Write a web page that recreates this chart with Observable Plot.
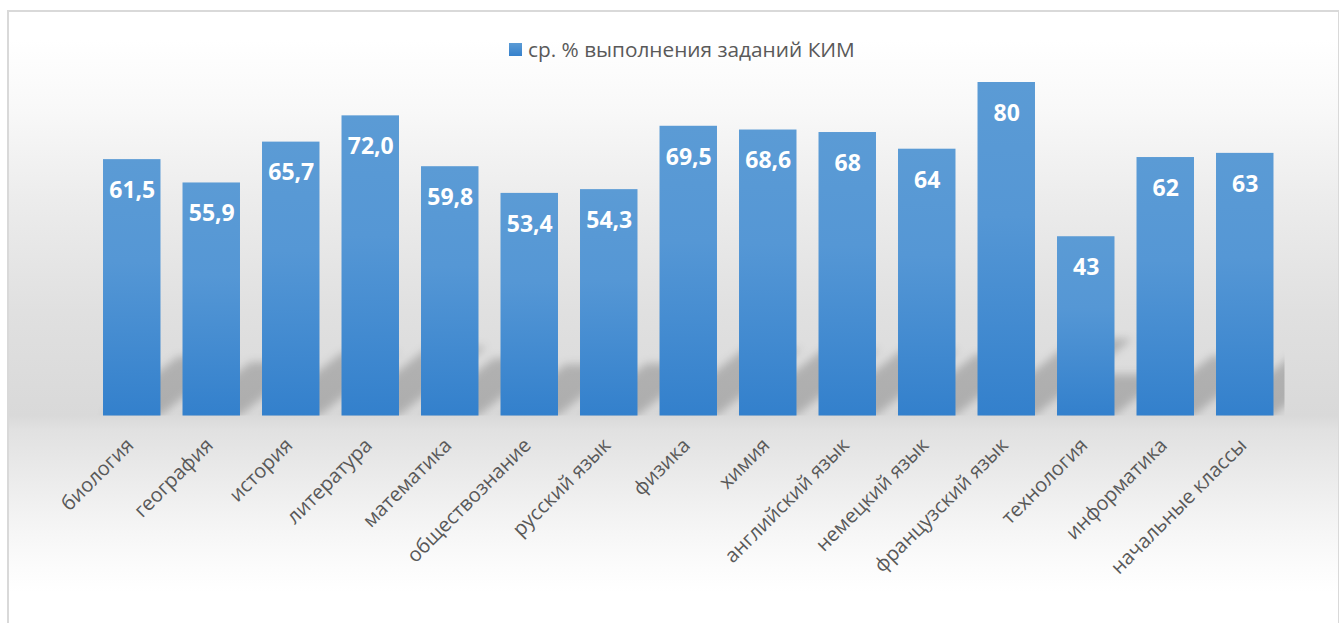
<!DOCTYPE html>
<html>
<head>
<meta charset="utf-8">
<script src="https://cdn.jsdelivr.net/npm/d3@7"></script>
<script src="https://cdn.jsdelivr.net/npm/@observablehq/plot@0.6"></script>
<style>
html, body { margin: 0; padding: 0; background: #ffffff; }
#wrap { position: relative; width: 1339px; height: 623px; overflow: hidden; font-family: "Open Sans", sans-serif; }
#frame {
  position: absolute; left: 7px; top: 10px; width: 1329px; height: 620px;
  border: 2px solid #d9d9d9;
  background: linear-gradient(to bottom,
    #ffffff 0px, #ffffff 28px, #f8f8f8 100px, #ececec 188px, #e0e0e0 300px,
    #d9d9d9 403px, #e1e1e1 418px, #ececec 470px, #f4f4f4 510px, #fbfbfb 550px, #ffffff 580px);
}
#chart { position: absolute; left: 0; top: 0; }
#legend {
  position: absolute; left: 509px; top: 35px; height: 28px;
  display: flex; align-items: center; gap: 6px;
  font-size: 20.8px; color: #595959; white-space: nowrap;
}
#legend .sw { width: 13px; height: 13px; background: linear-gradient(to bottom, #5b9bd5, #3681cc); }
</style>
</head>
<body>
<div id="wrap">
  <div id="frame"></div>
  <div id="chart"></div>
  <div id="legend"><span class="sw"></span><span id="legendText"></span></div>
</div>
<script>
const categories = ["биология", "география", "история", "литература", "математика", "обществознание", "русский язык", "физика", "химия", "английский язык", "немецкий язык", "французский язык", "технология", "информатика", "начальные классы"];
const values = [61.5, 55.9, 65.7, 72.0, 59.8, 53.4, 54.3, 69.5, 68.6, 68, 64, 80, 43, 62, 63];
const valueLabels = ["61,5", "55,9", "65,7", "72,0", "59,8", "53,4", "54,3", "69,5", "68,6", "68", "64", "80", "43", "62", "63"];
const seriesName = "ср. % выполнения заданий КИМ";

document.getElementById("legendText").textContent = seriesName;

const data = categories.map((c, i) => ({subject: c, value: values[i], label: valueLabels[i]}));

const plot = Plot.plot({
  width: 1339,
  height: 623,
  marginLeft: 92,
  marginRight: 54.5,
  marginTop: 82,
  marginBottom: 207.5,
  style: {background: "transparent", fontFamily: "'Open Sans', sans-serif", overflow: "visible"},
  x: {domain: categories, paddingInner: 0.277, paddingOuter: 0.1385, round: false, label: null},
  y: {domain: [0, 80], axis: null},
  marks: [
    Plot.barY(data, {x: "subject", y: "value", fill: "#000", fillOpacity: 0.2, clip: true}),
    Plot.barY(data, {x: "subject", y: "value", fill: "url(#barGrad)"}),
    Plot.text(data, {x: "subject", y: "value", text: "label", dy: 31, fill: "white", fontSize: 23, fontWeight: "bold"}),
    Plot.axisX({tickRotate: -45, tickSize: 0, tickPadding: 0, fontSize: 20, fill: "#595959", textAnchor: "end", lineAnchor: "middle", dx: -2, dy: 26, label: null})
  ]
});

document.getElementById("chart").appendChild(plot);

const svg = d3.select(plot);
const defs = svg.insert("defs", ":first-child");
const g = defs.append("linearGradient").attr("id", "barGrad").attr("x1", 0).attr("y1", 0).attr("x2", 0).attr("y2", 1);
g.append("stop").attr("offset", "0%").attr("stop-color", "#5b9bd5");
g.append("stop").attr("offset", "40%").attr("stop-color", "#5597d5");
g.append("stop").attr("offset", "100%").attr("stop-color", "#3380cc");
const f = defs.append("filter").attr("id", "shBlur").attr("filterUnits", "userSpaceOnUse")
  .attr("x", 0).attr("y", 0).attr("width", 1339).attr("height", 623);
f.append("feGaussianBlur").attr("stdDeviation", 4);

const y0 = plot.scale("y").apply(0);
const barGroups = svg.selectAll("g[aria-label='bar']").nodes();
const shadow = d3.select(barGroups[0]);
shadow.attr("filter", "url(#shBlur)");
const skew = -Math.atan(1.27) * 180 / Math.PI;
shadow.selectAll("rect").attr("transform", `translate(0,${y0}) skewX(${skew}) scale(1,0.23) translate(0,${-y0})`);
</script>
</body>
</html>
